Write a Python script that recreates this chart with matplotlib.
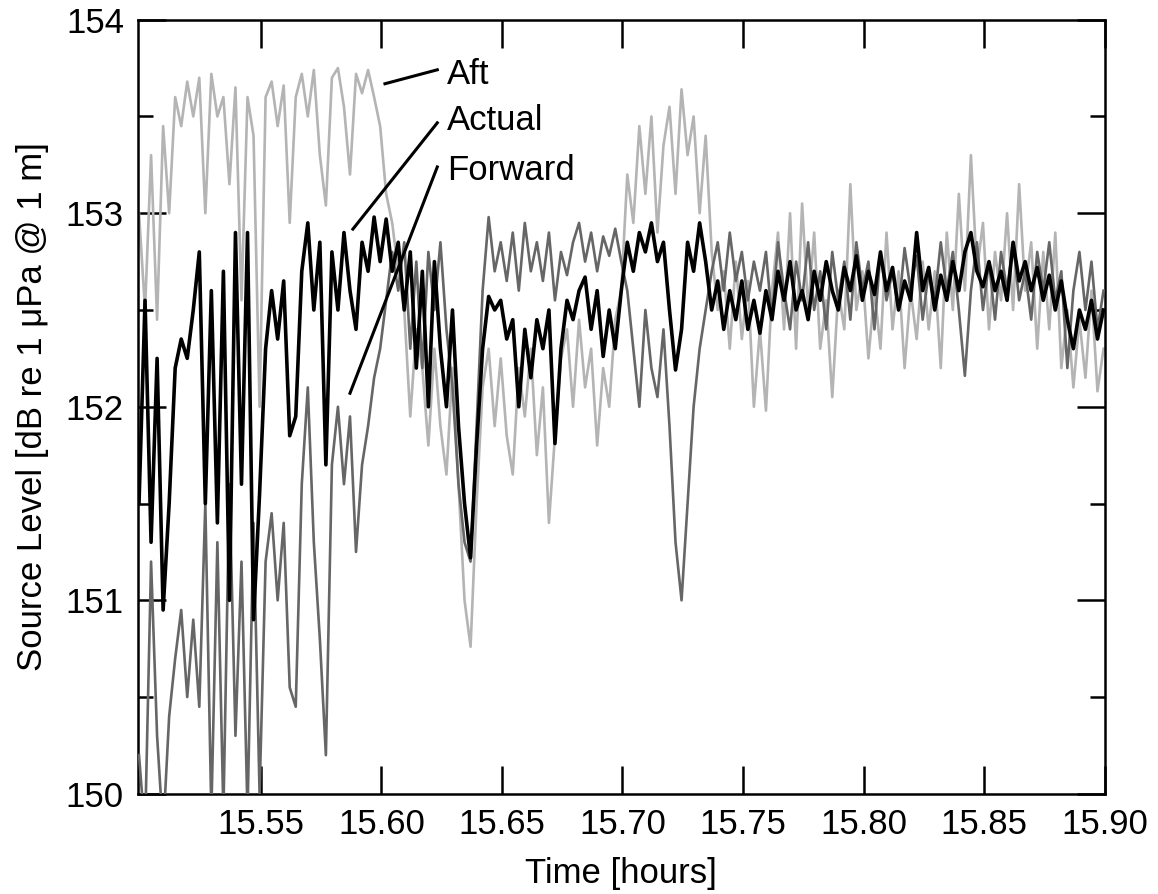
import numpy as np
import matplotlib
matplotlib.use("Agg")
import matplotlib.pyplot as plt
from matplotlib.ticker import MultipleLocator

plt.rcParams["font.family"] = ["Liberation Sans", "DejaVu Sans"]

# source level estimates (dB re 1 uPa @ 1 m), one sample every 0.0025 h
aft = [153.0, 152.5, 153.3, 152.45, 153.45, 153.0, 153.6, 153.45, 153.68, 153.5,
       153.7, 153.0, 153.72, 153.5, 153.6, 153.15, 153.65, 152.55, 153.6, 153.4,
       152.0, 153.6, 153.68, 153.45, 153.66, 152.95, 153.6, 153.72, 153.5, 153.74,
       153.3, 153.04, 153.7, 153.75, 153.55, 153.2, 153.72, 153.62, 153.74, 153.6,
       153.45, 153.1, 152.95, 152.7, 152.5, 151.95, 152.4, 152.2, 151.8, 152.3,
       151.9, 151.65, 152.2, 151.6, 151.0, 150.76, 151.5, 152.1, 152.3, 151.9,
       152.25, 151.85, 151.65, 152.2, 151.95, 152.3, 151.75, 152.1, 151.4, 151.85,
       152.25, 152.4, 152.0, 152.45, 152.1, 152.3, 151.8, 152.2, 152.0, 152.45,
       152.6, 153.2, 152.95, 153.45, 153.1, 153.5, 152.9, 153.35, 153.55, 153.1,
       153.64, 153.3, 153.5, 153.0, 153.4, 152.8, 152.5, 152.7, 152.3, 152.75,
       152.35, 152.65, 152.0, 152.4, 151.98, 152.6, 152.9, 152.4, 153.0, 152.3,
       153.05, 152.5, 152.9, 152.3, 152.55, 152.05, 152.6, 152.4, 153.15, 152.5,
       152.7, 152.25, 152.6, 152.3, 152.9, 152.4, 152.7, 152.2, 152.6, 152.35,
       152.75, 152.4, 152.7, 152.2, 152.9, 152.5, 153.1, 152.6, 153.3, 152.7,
       152.95, 152.4, 152.8, 152.55, 153.0, 152.5, 153.15, 152.6, 152.85, 152.3,
       152.8, 152.4, 152.9, 152.2, 152.5, 152.1, 152.45, 152.15, 152.6, 152.08,
       152.3]

actual = [151.5, 152.55, 151.3, 152.25, 150.95, 151.5, 152.2, 152.35, 152.25, 152.5,
          152.8, 151.5, 152.6, 151.4, 152.7, 151.0, 152.9, 151.6, 152.9, 150.9,
          151.55, 152.3, 152.6, 152.35, 152.65, 151.85, 151.95, 152.7, 152.95, 152.5,
          152.85, 151.7, 152.8, 152.5, 152.9, 152.6, 152.4, 152.85, 152.7, 152.98,
          152.75, 152.97, 152.7, 152.85, 152.5, 152.8, 152.2, 152.7, 152.0, 152.75,
          152.3, 152.0, 152.5, 151.9, 151.5, 151.22, 151.8, 152.3, 152.57, 152.5,
          152.55, 152.35, 152.45, 152.0, 152.4, 152.15, 152.45, 152.3, 152.5, 151.81,
          152.3, 152.55, 152.45, 152.6, 152.67, 152.4, 152.6, 152.26, 152.5, 152.3,
          152.6, 152.85, 152.7, 152.9, 152.8, 152.95, 152.75, 152.85, 152.5, 152.19,
          152.4, 152.85, 152.7, 152.95, 152.75, 152.5, 152.65, 152.4, 152.6, 152.45,
          152.65, 152.4, 152.55, 152.38, 152.6, 152.45, 152.7, 152.55, 152.75, 152.5,
          152.6, 152.45, 152.7, 152.55, 152.75, 152.6, 152.5, 152.72, 152.6, 152.78,
          152.55, 152.7, 152.58, 152.8, 152.6, 152.72, 152.5, 152.65, 152.55, 152.9,
          152.6, 152.72, 152.5, 152.68, 152.55, 152.75, 152.6, 152.8, 152.9, 152.7,
          152.62, 152.75, 152.6, 152.7, 152.55, 152.85, 152.65, 152.75, 152.6, 152.72,
          152.55, 152.68, 152.5, 152.65, 152.45, 152.3, 152.5, 152.4, 152.55, 152.35,
          152.5]

forward = [150.2, 149.8, 151.2, 150.3, 149.8, 150.4, 150.7, 150.95, 150.5, 150.9,
           150.45, 151.5, 149.9, 151.3, 149.9, 151.6, 150.3, 151.2, 149.9, 151.4,
           150.0, 151.2, 151.45, 151.0, 151.4, 150.55, 150.45, 151.6, 152.1, 151.3,
           150.8, 150.2, 151.7, 152.0, 151.6, 151.95, 151.25, 151.7, 151.9, 152.15,
           152.3, 152.55, 152.8, 152.6, 152.85, 152.3, 152.75, 152.2, 152.8, 152.5,
           152.85, 152.4, 152.1, 151.6, 151.3, 151.2, 151.9, 152.6, 152.98, 152.7,
           152.85, 152.65, 152.9, 152.6, 152.95, 152.7, 152.85, 152.65, 152.9, 152.55,
           152.8, 152.68, 152.85, 152.95, 152.75, 152.9, 152.7, 152.88, 152.78, 152.92,
           152.75, 152.6, 152.3, 152.0, 152.5, 152.2, 152.05, 152.4, 151.9, 151.3,
           151.0, 151.5, 152.0, 152.3, 152.5, 152.7, 152.85, 152.6, 152.9, 152.65,
           152.8, 152.55, 152.75, 152.6, 152.8, 152.45, 152.85, 152.6, 152.4, 152.75,
           152.55, 152.85, 152.5, 152.7, 152.4, 152.8, 152.55, 152.75, 152.45, 152.85,
           152.6, 152.75, 152.4, 152.8, 152.55, 152.7, 152.5, 152.82, 152.6, 152.78,
           152.45, 152.7, 152.55, 152.85, 152.6, 152.8, 152.5, 152.16, 152.6, 152.85,
           152.5, 152.75, 152.45, 152.8, 152.6, 152.85, 152.55, 152.7, 152.45, 152.8,
           152.6, 152.85, 152.55, 152.7, 152.2, 152.6, 152.8, 152.5, 152.75, 152.4,
           152.6]

t_start, t_end = 15.4995, 15.8995
xticks = [15.55, 15.60, 15.65, 15.70, 15.75, 15.80, 15.85, 15.90]
yticks = [150, 151, 152, 153, 154]

t = np.linspace(t_start, t_end, len(actual))

fig = plt.figure(figsize=(11.58, 8.94), dpi=100)
ax = fig.add_axes([0.119, 0.112, 0.835, 0.866])

ax.plot(t, aft, color="#b4b4b4", lw=1.9, zorder=2)
ax.plot(t, forward, color="#666666", lw=1.9, zorder=3)
ax.plot(t, actual, color="black", lw=2.6, zorder=4)

ax.set_xlim(15.499, 15.90)
ax.set_ylim(150, 154)
ax.set_xticks(xticks)
ax.set_xticklabels(["%.2f" % v for v in xticks])
ax.set_yticks(yticks)
ax.yaxis.set_minor_locator(MultipleLocator(0.5))

ax.tick_params(axis="both", which="major", direction="in", length=20, width=1.8,
               labelsize=25, pad=10, top=True, right=True)
ax.tick_params(axis="y", which="minor", direction="in", length=11, width=1.8,
               left=True, right=True)
for s in ax.spines.values():
    s.set_linewidth(1.8)

ax.set_xlabel("Time [hours]", fontsize=25, labelpad=12)
ax.set_ylabel("Source Level [dB re 1 \u03bcPa @ 1 m]", fontsize=25, labelpad=12)

# labels with leader lines
ax.plot([15.6015, 15.6232], [153.669, 153.741], color="black", lw=2.2, zorder=5)
ax.plot([15.5882, 15.6232], [152.918, 153.467], color="black", lw=2.2, zorder=5)
ax.plot([15.587, 15.6232], [152.07, 153.239], color="black", lw=2.2, zorder=5)
ax.text(15.6273, 153.715, "Aft", fontsize=25, va="center", ha="left")
ax.text(15.6273, 153.48, "Actual", fontsize=25, va="center", ha="left")
ax.text(15.6273, 153.22, "Forward", fontsize=25, va="center", ha="left")

fig.savefig("out.png", dpi=100)
